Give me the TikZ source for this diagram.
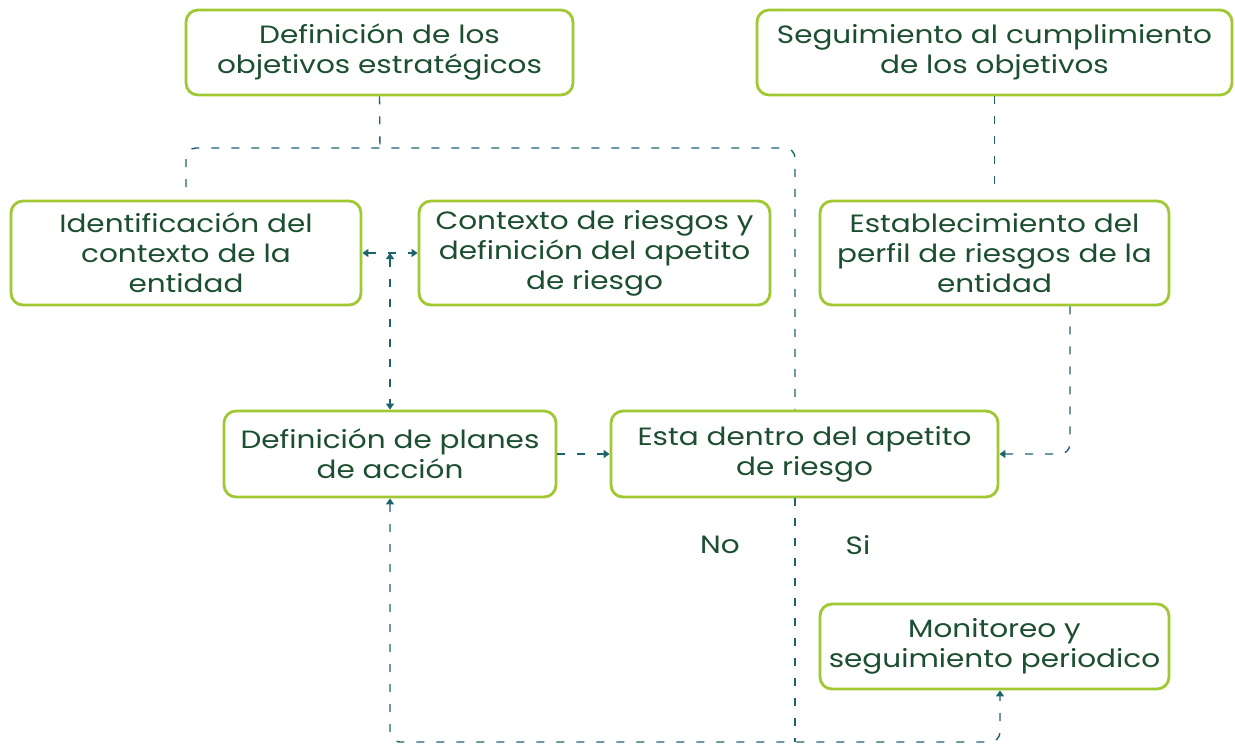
\documentclass[tikz,border=0pt]{standalone}
\usepackage{fontspec}
\setmainfont{Poppins}[FakeStretch=1.18]
\usetikzlibrary{arrows.meta,calc}
\definecolor{boxgreen}{RGB}{160,200,50}
\definecolor{txtgreen}{RGB}{28,78,48}
\definecolor{conncol}{RGB}{30,100,110}
\begin{document}
\begin{tikzpicture}[x=1pt,y=-1pt,
  box/.style={draw=boxgreen,line width=2.8pt,rounded corners=12pt,fill=white,
    inner sep=0pt,align=center,text=txtgreen,font=\fontsize{25}{30}\selectfont},
  conn/.style={draw=conncol,line width=1.4pt,dash pattern=on 8pt off 12pt,
    rounded corners=10pt},
  tip/.style={-{Triangle[length=6pt,width=8pt]}},
  tips/.style={{Triangle[length=6pt,width=8pt]}-{Triangle[length=6pt,width=8pt]}},
  lbl/.style={text=txtgreen,font=\fontsize{25}{30}\selectfont}]
\useasboundingbox (0,0) rectangle (1235,745);
\node[box,minimum width=387pt,minimum height=85pt] (b1) at (379.5,52.5) {Definición de los\\objetivos estratégicos};
\node[box,minimum width=475pt,minimum height=85pt] (b2) at (994.5,52.5) {Seguimiento al cumplimiento\\de los objetivos};
\node[box,minimum width=350pt,minimum height=104pt] (b3) at (186,253) {Identificación del\\contexto de la\\entidad};
\node[box,minimum width=351pt,minimum height=104pt] (b4) at (594.5,253) {Contexto de riesgos y\\definición del apetito\\de riesgo};
\node[box,minimum width=349pt,minimum height=104pt] (b5) at (994.5,253) {Establecimiento del\\perfil de riesgos de la\\entidad};
\node[box,minimum width=332pt,minimum height=86pt] (b6) at (390,454) {Definición de planes\\de acción};
\node[box,minimum width=387pt,minimum height=86pt] (b7) at (804.5,454) {Esta dentro del apetito\\de riesgo};
\node[box,minimum width=349pt,minimum height=85pt] (b8) at (994.5,646.5) {Monitoreo y\\seguimiento periodico};
\node[lbl] (no) at (720,545) {No};
\node[lbl] (si) at (858,545) {Si};
\coordinate (top) at (380,148);
\coordinate (c3) at (186,187);
\coordinate (c5) at (994.5,190);
\coordinate (bot) at (795,742);
\draw[conn] (b1.south) -- (top);
\draw[conn] (c3) |- (top) -| ([xshift=-9.5pt]b7.north);
\draw[conn] (b2.south) -- (c5);
\draw[conn,tip] ([xshift=75.5pt]b5.south) |- (b7.east);
\draw[conn,tips] (b3.east) -- (b4.west);
\draw[conn,tips] (b6.north |- b3.east) -- (b6.north);
\draw[conn,tip] (b6.east) -- (b7.west);
\draw[conn] ([xshift=-9.5pt]b7.south) -- (bot);
\draw[conn,tips] (b6.south) |- (bot) -| ([xshift=5.5pt]b8.south);
\end{tikzpicture}
\end{document}
